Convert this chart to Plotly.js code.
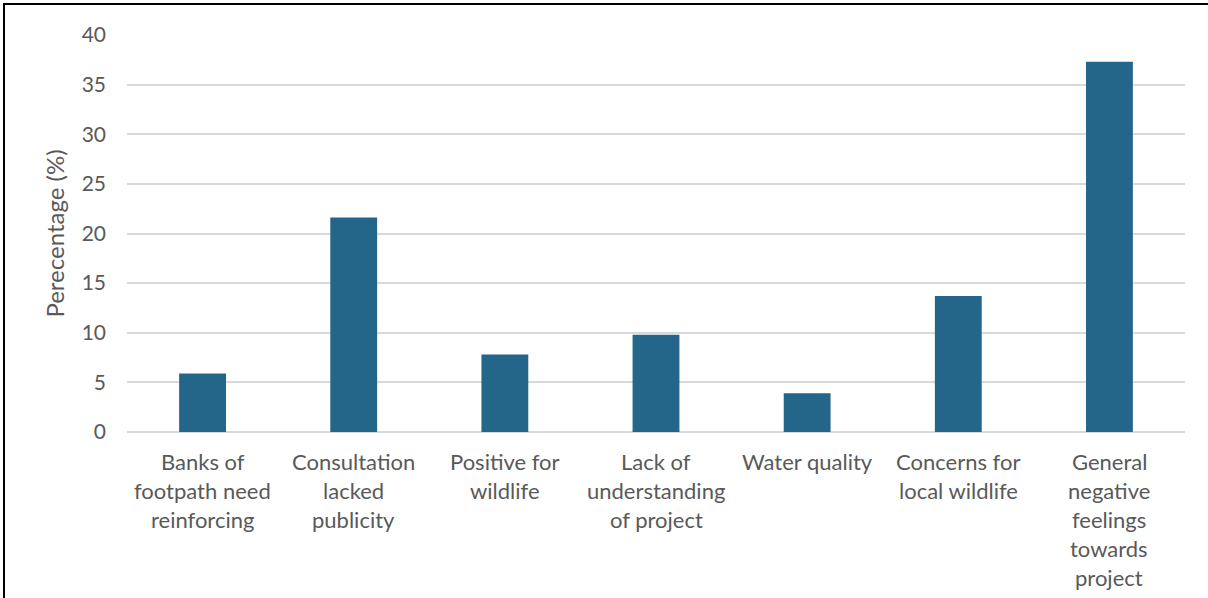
<!DOCTYPE html>
<html>
<head>
<meta charset="utf-8">
<script src="https://cdn.plot.ly/plotly-3.0.1.min.js"></script>
<style>
  html, body { margin: 0; padding: 0; background: #fff; overflow: hidden; }
  #frame { position: absolute; left: 3px; top: 3px; width: 1300px; height: 700px;
           border-left: 2px solid #000; border-top: 2px solid #000; box-sizing: border-box; }
  #chart { position: absolute; left: 0; top: 0; width: 1208px; height: 598px; }
</style>
</head>
<body>
<div id="chart"></div>
<div id="frame"></div>
<script>
const categories = [
  "Banks of footpath need reinforcing",
  "Consultation lacked publicity",
  "Positive for wildlife",
  "Lack of understanding of project",
  "Water quality",
  "Concerns for local wildlife",
  "General negative feelings towards project"
];
const labelLines = [
  ["Banks of", "footpath need", "reinforcing"],
  ["Consultation", "lacked", "publicity"],
  ["Positive for", "wildlife"],
  ["Lack of", "understanding", "of project"],
  ["Water quality"],
  ["Concerns for", "local wildlife"],
  ["General", "negative", "feelings", "towards", "project"]
];
const percentages = [5.9, 21.6, 7.8, 9.8, 3.9, 13.7, 37.3];
const yTicks = [0, 5, 10, 15, 20, 25, 30, 35, 40];

const textColor = "#595959";
const fontFamily = "Lato, 'Open Sans', sans-serif";

const annotations = [];
labelLines.forEach((lines, ci) => {
  lines.forEach((line, li) => {
    annotations.push({
      x: categories[ci], y: 0, xref: "x", yref: "y",
      yanchor: "top", xanchor: "center",
      yshift: -(14 + 29 * li),
      text: line, showarrow: false,
      font: { family: fontFamily, size: 22, color: textColor }
    });
  });
});

const trace = {
  type: "bar",
  x: categories,
  y: percentages,
  marker: { color: "#236689" },
  hoverinfo: "skip"
};

const layout = {
  width: 1208, height: 598,
  margin: { l: 127, r: 23, t: 35, b: 166 },
  paper_bgcolor: "#ffffff", plot_bgcolor: "#ffffff",
  bargap: 0.69,
  showlegend: false,
  font: { family: fontFamily, color: textColor, size: 21 },
  xaxis: {
    type: "category",
    showticklabels: false,
    showgrid: false, zeroline: false, ticks: "",
    showline: false
  },
  yaxis: {
    range: [0, 40],
    tickvals: yTicks,
    ticktext: yTicks.map(String),
    showgrid: true, gridcolor: "#d9d9d9", gridwidth: 2,
    zeroline: true, zerolinecolor: "#d9d9d9", zerolinewidth: 2,
    ticks: "", showline: false,
    ticklabelstandoff: 20,
    tickfont: { family: fontFamily, size: 21, color: textColor },
    title: { text: "Perecentage (%)", standoff: 10,
             font: { family: fontFamily, size: 24, color: textColor } }
  },
  annotations: annotations
};

Plotly.newPlot("chart", [trace], layout, { displayModeBar: false, staticPlot: true });
</script>
</body>
</html>
